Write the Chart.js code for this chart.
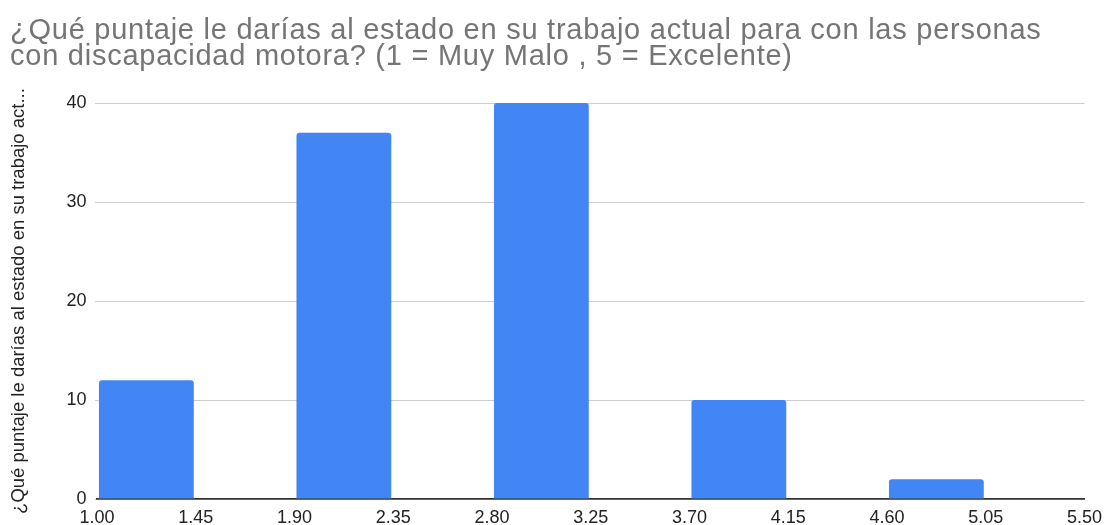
<!DOCTYPE html>
<html>
<head>
<meta charset="utf-8">
<script src="https://cdn.jsdelivr.net/npm/chart.js@4.4.0/dist/chart.umd.min.js"></script>
<style>
  html, body { margin: 0; padding: 0; background: #fff; }
  #wrap { width: 1110px; height: 525px; }
</style>
</head>
<body>
<div id="wrap"><canvas id="myChart"></canvas></div>
<script>
// bins of the histogram (width 0.45), value = count in bin
const binStarts = [1.00, 1.45, 1.90, 2.35, 2.80, 3.25, 3.70, 4.15, 4.60, 5.05];
const counts = [12, 0, 37, 0, 40, 0, 10, 0, 2, 0];
const binWidth = 0.45;
const titleLines = [
    "¿Qué puntaje le darías al estado en su trabajo actual para con las personas",
    "con discapacidad motora? (1 = Muy Malo , 5 = Excelente)"
];
const yTitle = "¿Qué puntaje le darías al estado en su trabajo act...";

const points = binStarts.map((s, i) => ({ x: s + binWidth / 2, y: counts[i] }));
const fuente = "'Liberation Sans', Arial, sans-serif";

// the title in the original is a bit wider than plain Arial
const espaciadoTitulo = {
    id: "espaciadoTitulo",
    afterInit(chart) {
        const t = chart.titleBlock;
        if (!t) return;
        const dibujar = t.draw;
        t.draw = function () {
            const ctx = chart.ctx;
            ctx.save();
            ctx.letterSpacing = "0.75px";
            dibujar.apply(this, arguments);
            ctx.restore();
        };
    }
};

const config = {
    type: "bar",
    data: {
        datasets: [{
            data: points,
            backgroundColor: "#4285f4",
            borderRadius: { topLeft: 3, topRight: 3 },
            borderSkipped: "bottom",
            barPercentage: 0.96,
            categoryPercentage: 1
        }]
    },
    options: {
        responsive: true,
        maintainAspectRatio: false,
        animation: false,
        layout: { padding: { left: 10, right: 22, top: 0, bottom: 0 } },
        plugins: {
            legend: { display: false },
            tooltip: { enabled: false },
            title: {
                display: true,
                text: titleLines,
                align: "start",
                color: "#757575",
                font: { family: fuente, size: 29, weight: "normal", lineHeight: 0.88 },
                padding: { top: 18.5, bottom: 33.5 }
            }
        },
        scales: {
            x: {
                type: "linear",
                offset: false,
                min: 1,
                max: 5.5,
                afterFit: (scale) => { scale.height = 26; },
                grid: { display: false, drawTicks: false },
                border: { display: true, color: "#333333", width: 1.7 },
                ticks: {
                    stepSize: binWidth,
                    color: "#222222",
                    font: { family: fuente, size: 18 },
                    padding: 8,
                    maxRotation: 0,
                    autoSkip: false,
                    callback: (v) => Number(v).toFixed(2)
                }
            },
            y: {
                min: 0,
                max: 40,
                afterFit: (scale) => { scale.width = 87; },
                ticks: {
                    stepSize: 10,
                    color: "#222222",
                    font: { family: fuente, size: 18 },
                    padding: 8.5
                },
                grid: {
                    color: (ctx) => ctx.tick && ctx.tick.value === 0 ? "rgba(0,0,0,0)" : "#cccccc",
                    tickLength: 2,
                    tickColor: "#cccccc"
                },
                border: { display: false },
                title: {
                    display: true,
                    text: yTitle,
                    color: "#222222",
                    font: { family: fuente, size: 18.5, lineHeight: 1 },
                    padding: { top: 0, bottom: 0 }
                }
            }
        }
    },
    plugins: [espaciadoTitulo]
};

window.onload = function () {
    const myChart = document.getElementById("myChart");
    new Chart(myChart, config);
};
</script>
</body>
</html>
